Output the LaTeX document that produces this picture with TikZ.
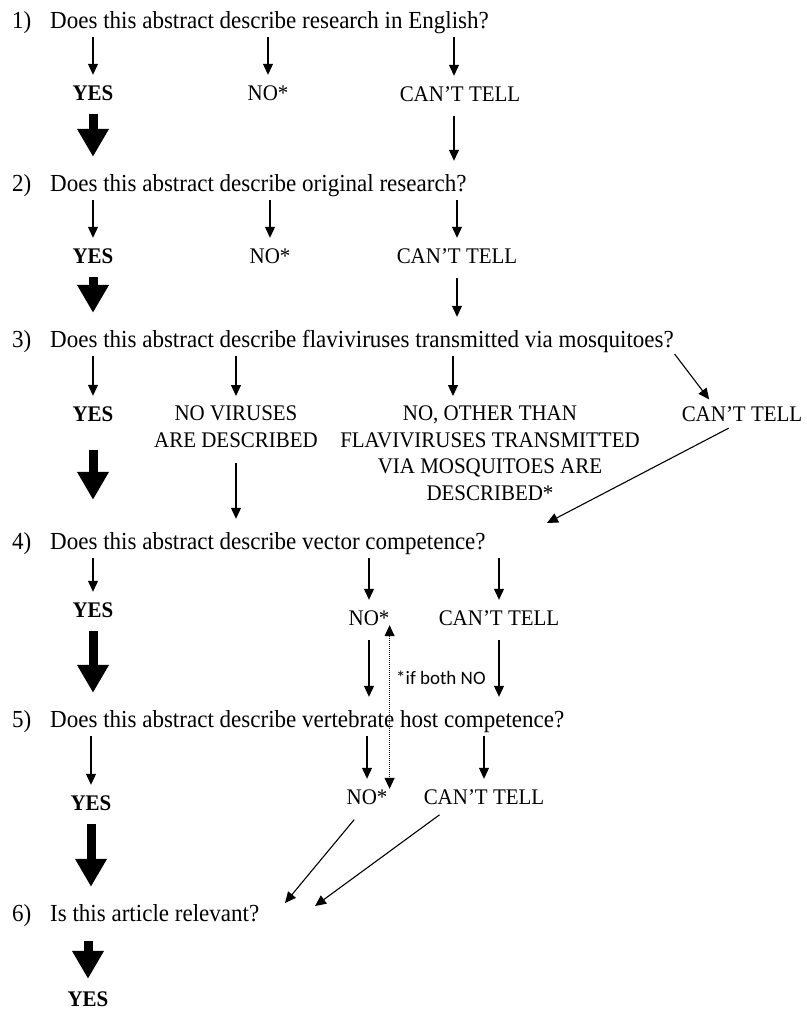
\documentclass[tikz,border=0pt]{standalone}
\usepackage{fontspec}
\setmainfont{Liberation Serif}[FakeStretch=0.94]
\newfontfamily\notefont{Carlito}
\usetikzlibrary{arrows.meta}

\begin{document}
\begin{tikzpicture}[x=1pt,y=-1pt,
    question/.style={anchor=base west, inner sep=0pt, text height=16pt, text depth=6pt, font=\fontsize{24.5}{28}\selectfont},
    answer/.style={anchor=base, inner sep=0pt, text height=15pt, text depth=0pt, font=\fontsize{22.3}{26.5}\selectfont},
    yes/.style={answer, font=\fontsize{22.3}{26.5}\selectfont\bfseries},
    answerbox/.style={anchor=north, inner sep=0pt, align=center, font=\fontsize{22.3}{26.5}\selectfont},
    down/.style={line width=1.1pt, -{Triangle[length=11pt,width=10pt]}, shorten <=3pt, shorten >=10pt},
    onward/.style={down, shorten <=15pt, shorten >=14pt},
    bigarrow/.style={line width=9pt, -{Triangle[length=28pt,width=30pt]}, shorten <=14pt, shorten >=18pt}]

    \useasboundingbox (0,0) rectangle (806,1009);

    % Questions
    \node[question] (n1) at (12,28)  {1)};
    \node[question] (q1) at (50,28)  {Does this abstract describe research in English?};
    \node[question] (n2) at (12,191) {2)};
    \node[question] (q2) at (50,191) {Does this abstract describe original research?};
    \node[question] (n3) at (12,347) {3)};
    \node[question] (q3) at (50,347) {Does this abstract describe flaviviruses transmitted via mosquitoes?};
    \node[question] (n4) at (12,549) {4)};
    \node[question] (q4) at (50,549) {Does this abstract describe vector competence?};
    \node[question] (n5) at (12,727) {5)};
    \node[question] (q5) at (50,727) {Does this abstract describe vertebrate host competence?};
    \node[question] (n6) at (12,921) {6)};
    \node[question] (q6) at (50,921) {Is this article relevant?};

    % Answers to 1)
    \node[yes]    (y1)  at (93,100)  {YES};
    \node[answer] (no1) at (268,100) {NO*};
    \node[answer] (c1)  at (460,101) {CAN'T TELL};

    % Answers to 2)
    \node[yes]    (y2)  at (93,263)  {YES};
    \node[answer] (no2) at (270,263) {NO*};
    \node[answer] (c2)  at (457,263) {CAN'T TELL};

    % Answers to 3)
    \node[yes]       (y3)  at (93,421)  {YES};
    \node[answerbox] (nv)  at (236,406) {NO VIRUSES\\ARE DESCRIBED};
    \node[answerbox] (no3) at (490,406) {NO, OTHER THAN\\FLAVIVIRUSES TRANSMITTED\\VIA MOSQUITOES ARE\\DESCRIBED*};
    \node[answer]    (c3)  at (742,421) {CAN'T TELL};

    % Answers to 4)
    \node[yes]    (y4)  at (93,617)  {YES};
    \node[answer] (no4) at (369,625) {NO*};
    \node[answer] (c4)  at (499,625) {CAN'T TELL};

    % Answers to 5)
    \node[yes]    (y5)  at (91,810)  {YES};
    \node[answer] (no5) at (367,804) {NO*};
    \node[answer] (c5)  at (484,804) {CAN'T TELL};

    % Answer to 6)
    \node[yes] (y6) at (88,1006) {YES};

    % Note
    \node[anchor=base west, inner sep=0pt, font=\notefont\fontsize{19}{22}\selectfont] (note) at (396,684) {*if both NO};

    % Free ends
    \coordinate (q4in) at (547,523);
    \coordinate (q6a)  at (285,903);
    \coordinate (q6b)  at (315,906);

    % Question 1 to answers
    \draw[down] (q1.south -| y1) -- (y1.north);
    \draw[down] (q1.south -| no1) -- (no1.north);
    \draw[down] ([xshift=-6pt]q1.south -| c1) -- ([xshift=-6pt]c1.north);

    % Question 2 to answers
    \draw[down] (q2.south -| y2) -- (y2.north);
    \draw[down] (q2.south -| no2) -- (no2.north);
    \draw[down] (q2.south -| c2) -- (c2.north);

    % Question 3 to answers
    \draw[down] (q3.south -| y3) -- (y3.north);
    \draw[down] (q3.south -| nv) -- (nv.north);
    \draw[down] ([xshift=-37pt]q3.south -| no3) -- ([xshift=-37pt]no3.north);
    \draw[down, shorten <=1pt, shorten >=8pt] (q3.south east) -- ([xshift=-28pt]c3.north);

    % Question 4 to answers
    \draw[down] (q4.south -| y4) -- (y4.north);
    \draw[down] (q4.south -| no4) -- (no4.north);
    \draw[down] (q4.south -| c4) -- (c4.north);

    % Question 5 to answers
    \draw[down] (q5.south -| y5) -- (y5.north);
    \draw[down] (q5.south -| no5) -- (no5.north);
    \draw[down] (q5.south -| c5) -- (c5.north);

    % Onward from other answers
    \draw[onward] ([xshift=-6pt]c1.south) -- ([xshift=-6pt]c1 |- q2.north);
    \draw[onward] (c2.south) -- (c2 |- q3.north);
    \draw[onward] (nv.south) -- (nv |- q4.north);
    \draw[onward, shorten >=0pt] (c3.south) -- (q4in);
    \draw[onward] (no4.south) -- (no4 |- q5.north);
    \draw[onward] (c4.south) -- (c4 |- q5.north);
    \draw[onward, shorten <=20pt, shorten >=0pt] (no5.south) -- (q6a);
    \draw[onward, shorten <=18pt, shorten >=0pt] ([xshift=-30pt]c5.south) -- (q6b);

    % Both NO
    \draw[line width=1pt, densely dotted, {Triangle[length=11pt,width=10pt]}-{Triangle[length=11pt,width=10pt]}]
        (no4.south east) -- (no4.south east |- no5.north);

    % YES path
    \draw[bigarrow] (y1.south) -- (y1 |- q2.north);
    \draw[bigarrow] (y2.south) -- (y2 |- q3.north);
    \draw[bigarrow, shorten <=29pt, shorten >=33pt] (y3.south) -- (y3 |- q4.north);
    \draw[bigarrow] (y4.south) -- (y4 |- q5.north);
    \draw[bigarrow] (y5.south) -- (y5 |- q6.north);
    \draw[bigarrow, shorten >=12pt] (q6.south -| y6) -- (y6.north);

\end{tikzpicture}
\end{document}
